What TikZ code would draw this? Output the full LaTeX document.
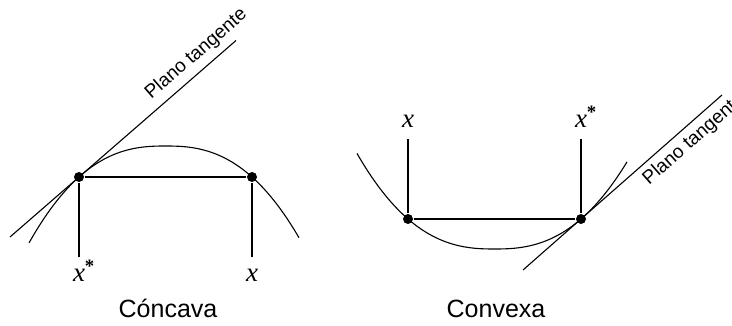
\documentclass[tikz,border=0pt]{standalone}
\usepackage{fontspec}
\setmainfont{Liberation Sans}
\newfontfamily\timesfont{Liberation Serif}
\usetikzlibrary{positioning}

\begin{document}
\begin{tikzpicture}[x=1pt, y=-1pt,
		line width=1.1pt,
		dotnode/.style={circle,fill,inner sep=0pt,minimum size=10pt},
		varnode/.style={anchor=base,inner sep=0pt,font=\timesfont\itshape\fontsize{27}{27}\selectfont},
		titlenode/.style={anchor=base,inner sep=0pt,font=\fontsize{25}{25}\selectfont},
		planonode/.style={sloped,font=\fontsize{19}{19}\selectfont}]
		\useasboundingbox (0,0) rectangle (732,326);

		\begin{scope}
			\node[dotnode] (a) at (79,177) {};
			\node[dotnode] (b) at (252,177) {};
			\coordinate (a') at (79,257);
			\coordinate (b') at (252,257);
			\coordinate (t1) at (10,237);
			\coordinate (t2) at (236,40.5);
			\node[varnode] (xs) at (79,282) {x\rlap{\textsuperscript{\upshape\bfseries *}}};
			\node[varnode] (x) at (252,282) {x};
			\node[titlenode] (cc) at (168,318) {Cóncava};
			\draw plot[domain=29:299,samples=120] (\x,{146+31*pow(abs(\x-165.5)/86.5,2.5)});
			\draw (a) -- (b);
			\draw (a) -- (a');
			\draw (b) -- (b');
			\draw (t1) -- (t2) node[planonode,pos=0.87,above=3pt] {Plano tangente};
		\end{scope}

		\begin{scope}[xshift=340pt]
			\node[dotnode] (a) at (68,219) {};
			\node[dotnode] (b) at (241,219) {};
			\coordinate (a') at (68,139);
			\coordinate (b') at (241,139);
			\coordinate (t1) at (183,270);
			\coordinate (t2) at (382,95);
			\node[varnode] (x) at (68,128) {x};
			\node[varnode] (xs) at (241,128) {x\rlap{\textsuperscript{\upshape\bfseries *}}};
			\node[titlenode] (cv) at (156,318) {Convexa};
			\draw plot[domain=17:287,samples=120] (\x,{249-30*pow(abs(\x-154.5)/86.5,2.5)});
			\draw (a) -- (b);
			\draw (a) -- (a');
			\draw (b) -- (b');
			\draw (t1) -- (t2) node[planonode,pos=0.81,below=2pt] {Plano tangente};
		\end{scope}
	\end{tikzpicture}
\end{document}
